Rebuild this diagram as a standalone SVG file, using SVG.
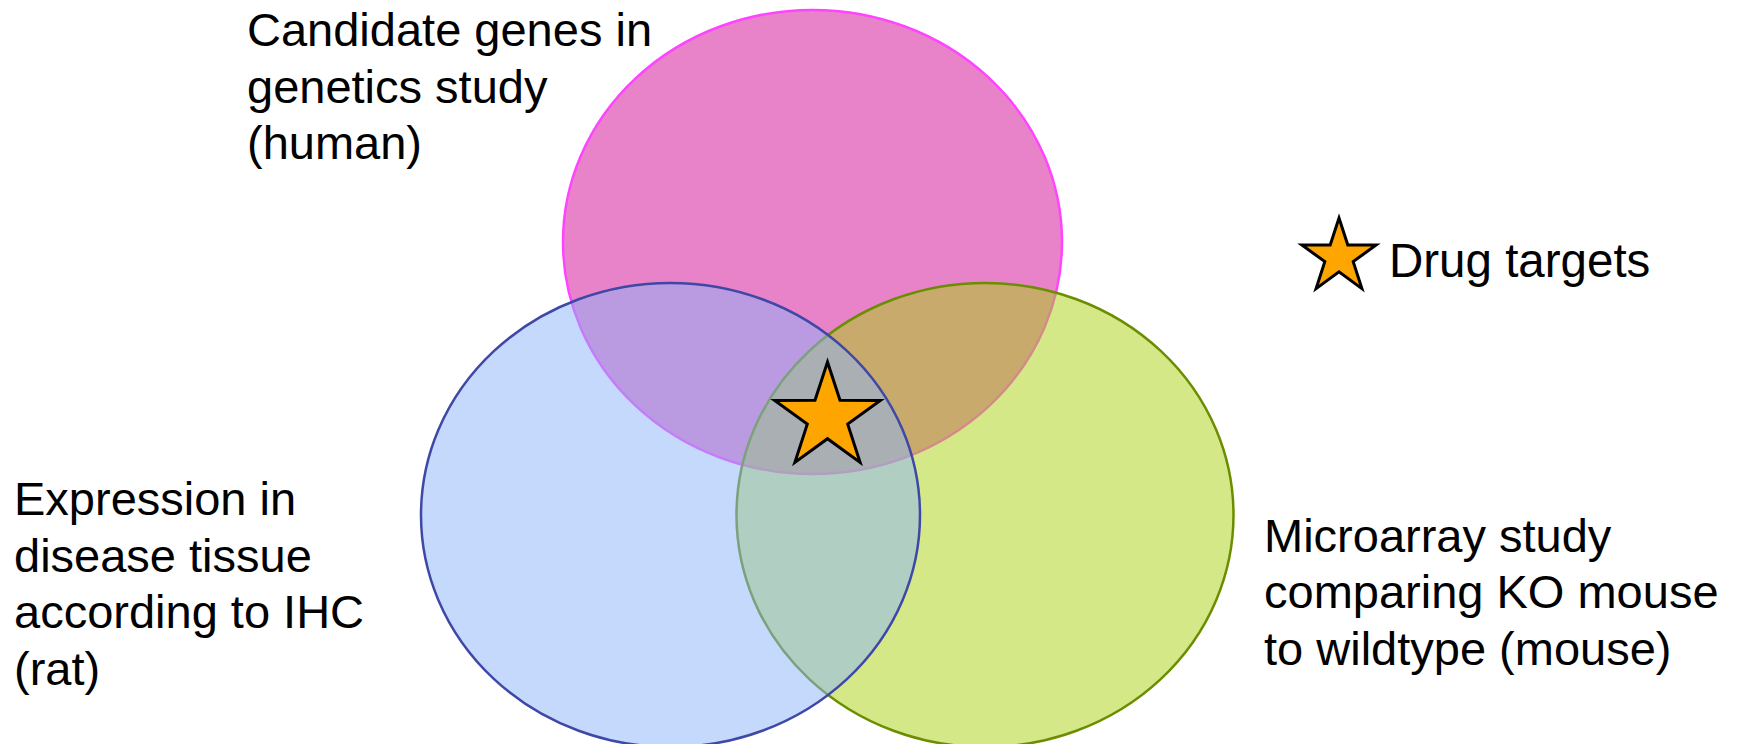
<svg xmlns="http://www.w3.org/2000/svg" width="1745" height="744" viewBox="0 0 1745 744">
<style>
.lbl{font-family:"Liberation Sans",Arial,sans-serif;font-size:47px;fill:#000}
.set{fill-opacity:0.5;stroke-width:2.5}
.star{fill:#FFA500;stroke:#000;stroke-width:3;stroke-linejoin:miter}
</style>
<rect width="1745" height="744" fill="#fff"/>
<g id="set-human">
<ellipse class="set" cx="812.5" cy="242" rx="249.5" ry="232" fill="#D10793" stroke="#FF44FF"/>
</g>
<g id="set-mouse">
<ellipse class="set" cx="985" cy="515" rx="248.5" ry="232" fill="#A9D111" stroke="#6B8E00"/>
</g>
<g id="set-rat">
<ellipse class="set" cx="670.5" cy="515" rx="249.5" ry="232" fill="#8BB3F9" stroke="#3F48A6"/>
</g>
<g id="drug-target-star">
<path class="star" transform="translate(0,2)" d="M827.5,360 L840,398.3 L880.3,398.4 L847.7,422.1 L860.1,460.4 L827.5,436.7 L794.9,460.4 L807.3,422.1 L774.7,398.4 L815,398.3 Z"/>
</g>
<g id="legend">
<path class="star" transform="translate(0,3)" d="M1339,215 L1347.8,242 L1376.1,242 L1353.2,258.6 L1361.9,285.6 L1339,268.9 L1316.1,285.6 L1324.8,258.6 L1301.9,242 L1330.2,242 Z"/>
<text class="lbl" x="1389" y="277" style="font-size:47.5px">Drug targets</text>
</g>
<g id="label-human">
<text class="lbl" x="247" y="46">Candidate genes in</text>
<text class="lbl" x="247" y="102.5">genetics study</text>
<text class="lbl" x="247" y="159">(human)</text>
</g>
<g id="label-rat">
<text class="lbl" x="14" y="515">Expression in</text>
<text class="lbl" x="14" y="571.5">disease tissue</text>
<text class="lbl" x="14" y="628">according to IHC</text>
<text class="lbl" x="14" y="684.5">(rat)</text>
</g>
<g id="label-mouse">
<text class="lbl" x="1264" y="551.5">Microarray study</text>
<text class="lbl" x="1264" y="608">comparing KO mouse</text>
<text class="lbl" x="1264" y="664.5">to wildtype (mouse)</text>
</g>
<g id="connectors"></g>
</svg>
